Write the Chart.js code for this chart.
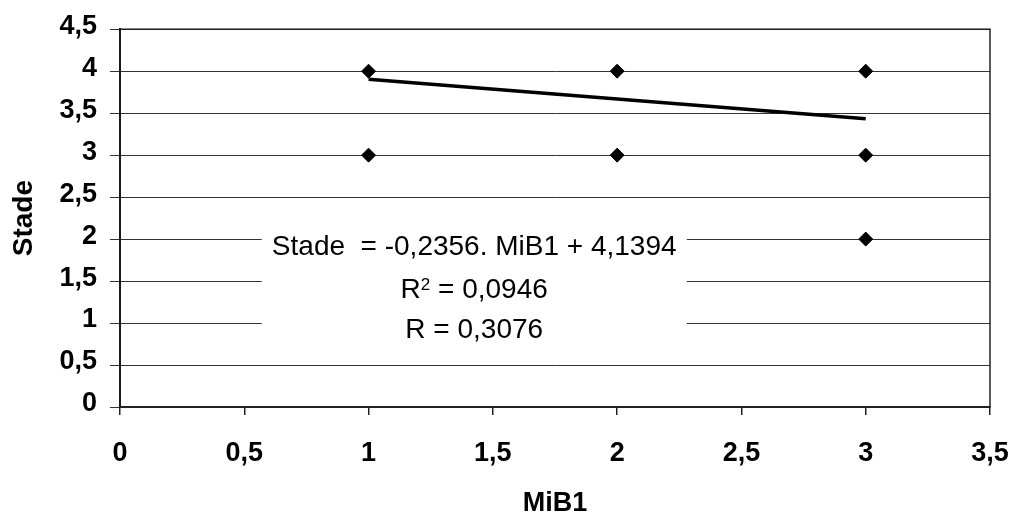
<!DOCTYPE html>
<html><head><meta charset="utf-8">
<script src="https://cdn.jsdelivr.net/npm/chart.js@4"></script>
<style>html,body{margin:0;padding:0;background:#fff}canvas{display:block}</style>
</head><body>
<canvas id="c" width="1012" height="515"></canvas>
<script>
// ---- data ----
const pointsX = [1, 1, 2, 2, 3, 3, 3];
const pointsY = [4, 3, 4, 3, 4, 3, 2];
const trendX = [1, 3];
const trendY = [3.904, 3.433];
const xTicksMin = 0, xTicksMax = 3.5, xStep = 0.5;
const yTicksMin = 0, yTicksMax = 4.5, yStep = 0.5;
const xTitle = 'MiB1';
const yTitle = 'Stade';
const eqLine = 'Stade  = -0,2356. MiB1 + 4,1394';
const r2Base = 'R', r2Sup = '2', r2Rest = ' = 0,0946';
const rLine = 'R = 0,3076';

const FONT = "'Liberation Sans', Arial, sans-serif";
const fmt = v => String(v).replace('.', ',');

const scatterData = pointsX.map((x, i) => ({x, y: pointsY[i]}));
const trendData = trendX.map((x, i) => ({x, y: trendY[i]}));

const annotationPlugin = {
  id: 'eqBox',
  beforeDatasetsDraw(chart) {
    const {ctx} = chart;
    const xs = chart.scales.x, ys = chart.scales.y;
    // white box masking the grid
    const left = xs.getPixelForValue(0.57), right = xs.getPixelForValue(2.28);
    const top = ys.getPixelForValue(2.2), bottom = ys.getPixelForValue(0.74);
    ctx.save();
    ctx.fillStyle = '#fff';
    ctx.fillRect(left, top, right - left, bottom - top);
    const cx = (left + right) / 2;
    ctx.fillStyle = '#000';
    ctx.textBaseline = 'alphabetic';
    ctx.font = '28px ' + FONT;
    ctx.textAlign = 'center';
    ctx.fillText(eqLine, cx, top + 33);
    // R^2 line
    ctx.textAlign = 'left';
    ctx.font = '28px ' + FONT;
    const wR = ctx.measureText(r2Base).width;
    const wRest = ctx.measureText(r2Rest).width;
    ctx.font = '17px ' + FONT;
    const wSup = ctx.measureText(r2Sup).width;
    let sx = cx - (wR + wSup + wRest) / 2;
    const b2 = top + 76;
    ctx.font = '28px ' + FONT;
    ctx.fillText(r2Base, sx, b2);
    ctx.font = '17px ' + FONT;
    ctx.fillText(r2Sup, sx + wR, b2 - 8);
    ctx.font = '28px ' + FONT;
    ctx.fillText(r2Rest, sx + wR + wSup, b2);
    ctx.textAlign = 'center';
    ctx.fillText(rLine, cx, top + 116);
    ctx.restore();
  },
  afterDatasetsDraw(chart) {
    const {ctx, chartArea: a} = chart;
    ctx.save();
    ctx.strokeStyle = '#222';
    ctx.lineWidth = 1.5;
    ctx.strokeRect(a.left, a.top, a.right - a.left, a.bottom - a.top);
    ctx.restore();
  }
};

new Chart(document.getElementById('c'), {
  type: 'scatter',
  data: {
    datasets: [
      {
        label: 'trend',
        data: trendData,
        showLine: true,
        borderColor: '#000',
        borderWidth: 3.5,
        pointRadius: 0,
        fill: false,
        order: 2
      },
      {
        label: 'points',
        data: scatterData,
        pointStyle: 'rectRot',
        pointRadius: 7,
        pointBackgroundColor: '#000',
        pointBorderColor: '#000',
        pointBorderWidth: 1,
        showLine: false,
        order: 1
      }
    ]
  },
  options: {
    responsive: false,
    animation: false,
    devicePixelRatio: 1,
    layout: {padding: {top: 29, right: 0, left: 0, bottom: 0}},
    plugins: {legend: {display: false}, tooltip: {enabled: false}},
    scales: {
      x: {
        type: 'linear',
        min: xTicksMin, max: xTicksMax,
        afterFit: s => { s.height = 108; s.paddingRight = 22; s.paddingLeft = 0; },
        ticks: {
          stepSize: xStep,
          callback: fmt,
          color: '#000',
          padding: 22,
          maxRotation: 0,
          font: {family: FONT, size: 27, weight: 'bold'}
        },
        grid: {drawOnChartArea: false, drawTicks: true, tickLength: 8, color: '#222', lineWidth: 1.5},
        border: {display: true, color: '#222', width: 1.5},
        title: {
          display: true, text: xTitle, color: '#000',
          font: {family: FONT, size: 27, weight: 'bold', lineHeight: 0.85},
          padding: {top: 0, bottom: 0}
        }
      },
      y: {
        type: 'linear',
        min: yTicksMin, max: yTicksMax,
        afterFit: s => { s.width = 120; },
        ticks: {
          stepSize: yStep,
          callback: fmt,
          color: '#000',
          padding: 13,
          labelOffset: -3,
          font: {family: FONT, size: 27, weight: 'bold'}
        },
        grid: {drawOnChartArea: true, drawTicks: true, tickLength: 10, color: '#333', lineWidth: 1},
        border: {display: true, color: '#000', width: 2},
        title: {
          display: true, text: yTitle, color: '#000',
          font: {family: FONT, size: 28, weight: 'bold'},
          padding: {top: 7, bottom: 0}
        }
      }
    }
  },
  plugins: [annotationPlugin]
});
</script>
</body></html>
